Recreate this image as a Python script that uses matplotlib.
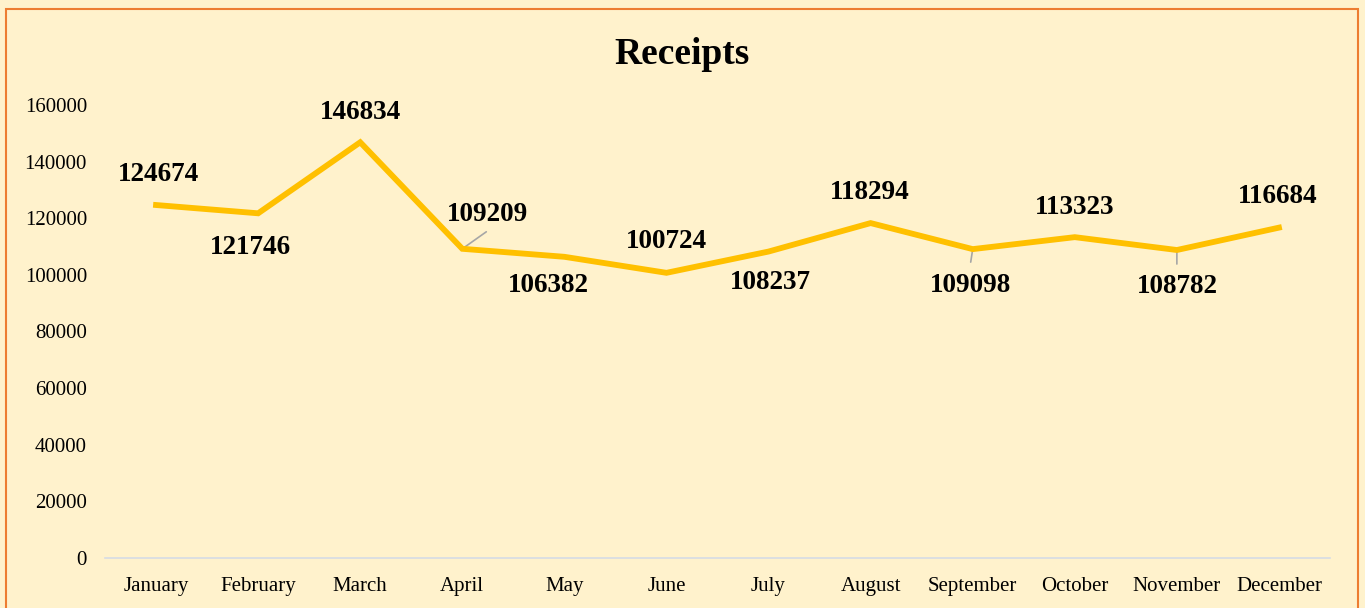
import matplotlib.pyplot as plt
from matplotlib.patches import Rectangle

months = ["January", "February", "March", "April", "May", "June", "July",
          "August", "September", "October", "November", "December"]
receipts = [124674, 121746, 146834, 109209, 106382, 100724, 108237,
            118294, 109098, 113323, 108782, 116684]
yticks = [0, 20000, 40000, 60000, 80000, 100000, 120000, 140000, 160000]

# label offsets in pixels (dx, dy) relative to each point
label_offsets = [(2, 31), (-8, -34), (0, 30), (25, 34), (-16, -29), (0, 31),
                 (2, -31), (-1, 31), (-2, -36), (0, 30), (0, -36), (-1, 31)]
# leader lines: index -> end offset in pixels
leaders = {3: (24, 17), 8: (-2, -13), 10: (0, -14)}

plt.rcParams['font.family'] = ['Liberation Serif', 'DejaVu Serif']

bg = "#FFF2CC"
fig = plt.figure(figsize=(13.65, 6.08), dpi=100, facecolor=bg)
ax = fig.add_axes([105 / 1365, 1 - 558 / 608, 1225 / 1365, 453 / 608])
ax.set_facecolor(bg)

x = list(range(len(months)))
ax.plot(x, receipts, color="#FFC000", lw=4.2, solid_joinstyle="miter", zorder=3)

for i, v in enumerate(receipts):
    dx, dy = label_offsets[i]
    ax.annotate(str(v), (i, v), xytext=(dx, dy), textcoords="offset pixels",
                ha="center", va="center", fontsize=19.5, fontweight="bold",
                color="black", zorder=4)
for i, (ex, ey) in leaders.items():
    ax.annotate("", (i, receipts[i]), xytext=(ex, ey), textcoords="offset pixels",
                arrowprops=dict(arrowstyle="-", color="#A6A6A6", lw=1.2,
                                shrinkA=0, shrinkB=0), zorder=2)

ax.set_xlim(-0.5, 11.5)
ax.set_ylim(0, 160000)
ax.set_xticks(x)
ax.set_xticklabels(months, fontsize=15)
ax.set_yticks(yticks)
ax.set_yticklabels([str(t) for t in yticks], fontsize=15)
ax.tick_params(axis="both", length=0)
ax.tick_params(axis="y", pad=13)
ax.tick_params(axis="x", pad=13.5)

for s in ["top", "right", "left"]:
    ax.spines[s].set_visible(False)
ax.spines["bottom"].set_color("#D6DCE5")
ax.spines["bottom"].set_linewidth(1.2)

fig.text(682 / 1365, 1 - 54 / 608, "Receipts", ha="center", va="center",
         fontsize=27, fontweight="bold")

border = Rectangle((6 / 1365, -0.05), (1358 - 6) / 1365, 1.05 - 9 / 608,
                   transform=fig.transFigure, fill=False, edgecolor="#ED7D31",
                   lw=1.5, clip_on=False)
fig.patches.append(border)

fig.savefig("out.png", dpi=100, facecolor=bg)
